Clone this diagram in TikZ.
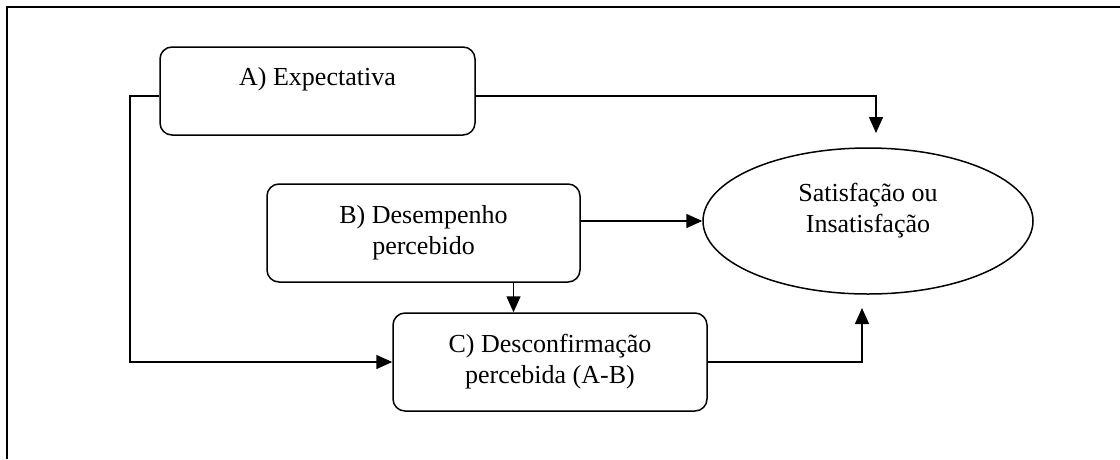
\documentclass[tikz,border=0pt]{standalone}
\usepackage{fontspec}
\setmainfont{Liberation Serif}
\usetikzlibrary{arrows.meta,shapes.geometric}

\begin{document}
\begin{tikzpicture}[x=1pt,y=-1pt,
  rbox/.style={draw,line width=1.5pt,rounded corners=12pt,inner sep=0pt,align=center,
    font=\fontsize{26}{31}\selectfont},
  txt/.style={align=center,inner sep=0pt,font=\fontsize{26}{31}\selectfont},
  arr/.style={line width=1.5pt,-{Triangle[length=16pt,width=14pt]}}]
  \useasboundingbox (0,0) rectangle (1120,459);
  \draw[line width=2pt] (6.5,459) -- (6.5,7) -- (1120,7);
  % boxes
  \node[rbox,minimum width=315,minimum height=88] (a) at (317.5,91) {};
  \node[txt,yshift=12] (ta) at (a) {A) Expectativa};
  \node[rbox,minimum width=313,minimum height=98] (b) at (423.5,233) {B) Desempenho\\percebido};
  \node[rbox,minimum width=314,minimum height=98] (c) at (550,362) {C) Desconfirmação\\percebida (A-B)};
  \node[ellipse,draw,line width=1.5pt,inner sep=0pt,minimum width=330,minimum height=146] (s) at (868,221) {};
  \node[txt,yshift=10] (ts) at (s) {Satisfação ou\\Insatisfação};
  \coordinate (sn) at (876,133);
  \coordinate (ss) at (862,308);
  \coordinate (cl) at (130,362);
  % connectors
  \draw[arr] ([yshift=-5]a.west) -| (cl) -- (c.west);
  \draw[arr] ([yshift=-5]a.east) -| (sn);
  \draw[arr] (b.east |- s.west) -- (s.west);
  \draw[arr] ([xshift=90]b.south) -- ([xshift=90]b.south |- c.north);
  \draw[arr] (c.east) -| (ss);
\end{tikzpicture}
\end{document}
